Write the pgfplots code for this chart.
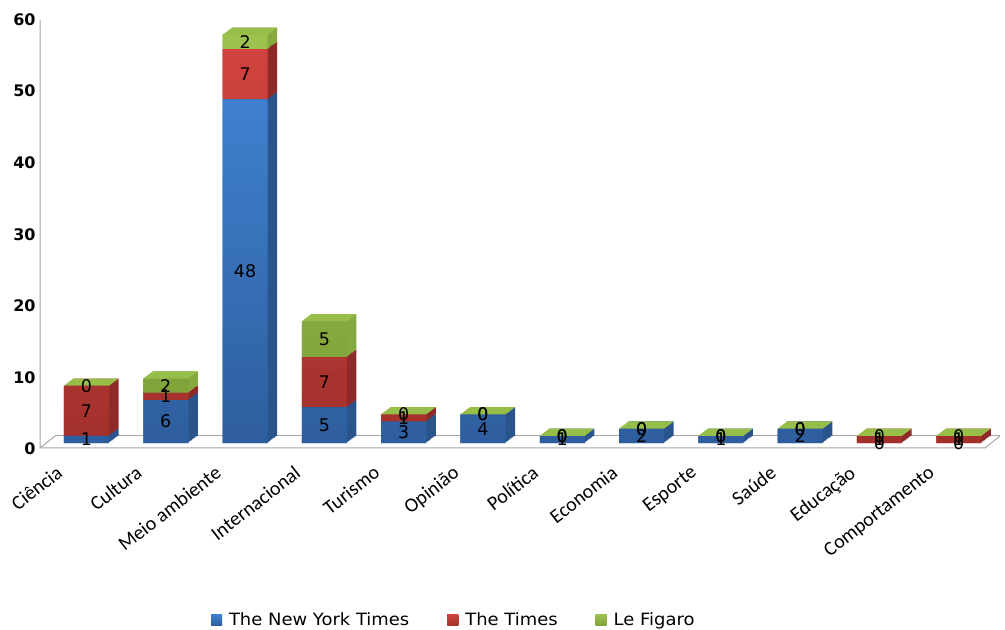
\documentclass[border=0pt]{standalone}
\usepackage{pgfplots}
\pgfplotsset{compat=1.18}
\usepackage{pgfplotstable}
\usepackage{fontspec}
\setmainfont{DejaVu Sans}
\newfontfamily\carlito{Carlito}
\newfontfamily\legfont[FakeStretch=1.06]{DejaVu Sans}

\definecolor{blueT}{HTML}{3F80CE}
\definecolor{blueB}{HTML}{2E5E9E}
\definecolor{blueS}{HTML}{2A558C}
\definecolor{redT}{HTML}{D0433F}
\definecolor{redB}{HTML}{A3302C}
\definecolor{redS}{HTML}{8E2A27}
\definecolor{greenT}{HTML}{9DC24E}
\definecolor{greenB}{HTML}{7FA33A}
\definecolor{greenS}{HTML}{86AA3E}
\definecolor{greenTop}{HTML}{98BE4A}
\definecolor{floor}{HTML}{A6A6A6}

\pgfdeclareplotmark{topface}{%
  \pgfpathmoveto{\pgfpoint{-22.5bp}{0bp}}%
  \pgfpathlineto{\pgfpoint{22.5bp}{0bp}}%
  \pgfpathlineto{\pgfpoint{32.1bp}{7.2bp}}%
  \pgfpathlineto{\pgfpoint{-12.9bp}{7.2bp}}%
  \pgfpathclose
  \pgfusepathqfill
}

\pgfplotstableread{
x nyt times figaro
0 1 7 0
1 6 1 2
2 48 7 2
3 5 7 5
4 3 1 0
5 4 0 0
6 1 0 0
7 2 0 0
8 1 0 0
9 2 0 0
10 0 1 0
11 0 1 0
}\datatable

\pgfplotsset{
  geom/.style={
    scale only axis, width=960bp, height=429.6bp, anchor=south west,
    xmin=-0.586, xmax=11.52, ymin=0, ymax=60,
    axis line style={draw=none}, tick style={draw=none},
    clip=false,
  },
  base/.style={geom, ybar stacked, bar width=45bp},
}

\begin{document}
\begin{tikzpicture}
\path[use as bounding box] (0bp,0bp) rectangle (1005bp,630bp);
% floor and wall edge
\draw[floor, line width=1bp] (55bp,194bp) -- (1000bp,194bp);
\draw[floor, line width=1bp] (40bp,610bp) -- (40bp,182bp) -- (985bp,182bp) -- (1000bp,194bp);
\draw[floor, line width=1bp] (40bp,182bp) -- (55bp,194bp);
% depth (3D) passes: side faces
\foreach \k in {1,...,8}{
\begin{axis}[base, hide axis, at={({40bp+\k*1.2bp},{187bp+\k*0.9bp})}]
\addplot[fill=blueS, draw=none] table[x=x,y=nyt]{\datatable};
\end{axis}
}
\foreach \k in {1,...,8}{
\begin{axis}[base, hide axis, at={({40bp+\k*1.2bp},{187bp+\k*0.9bp})}]
\addplot[fill=none, draw=none] table[x=x,y=nyt]{\datatable};
\addplot[fill=redS, draw=none] table[x=x,y=times]{\datatable};
\end{axis}
}
\foreach \k in {1,...,8}{
\begin{axis}[base, hide axis, at={({40bp+\k*1.2bp},{187bp+\k*0.9bp})}]
\addplot[fill=none, draw=none] table[x=x,y=nyt]{\datatable};
\addplot[fill=none, draw=none] table[x=x,y=times]{\datatable};
\addplot[fill=greenS, draw=none] table[x=x,y=figaro]{\datatable};
\end{axis}
}
% front faces
\begin{axis}[base, at={(40bp,187bp)},
  ytick={0,10,...,60},
  yticklabel style={font=\bfseries\fontsize{16}{19}\selectfont, yshift=-6bp, xshift=-1bp},
  /pgf/number format/assume math mode=true,
  xtick={0,...,11},
  xticklabels={Ciência,Cultura,Meio ambiente,Internacional,Turismo,Opinião,Política,Economia,Esporte,Saúde,Educação,Comportamento},
  xticklabel style={font=\carlito\fontsize{20}{23}\selectfont, xshift=-31bp, yshift=-20bp, rotate=38, anchor=north east, inner sep=1bp},
  legend columns=3,
  legend style={draw=none, at={(0.431,-0.412)}, anchor=center, font=\legfont\fontsize{17}{20}\selectfont,
    /tikz/every odd column/.append style={column sep=5bp},
    /tikz/every even column/.append style={column sep=36bp}},
  legend image code/.code={\fill[#1] (0bp,-5.5bp) rectangle (11bp,5.5bp);},
]
\addplot[fill=blueB, top color=blueT, bottom color=blueB, draw=none] table[x=x,y=nyt]{\datatable};
\addplot[fill=redB, top color=redT, bottom color=redB, draw=none] table[x=x,y=times]{\datatable};
\addplot[fill=greenB, top color=greenT, bottom color=greenB, draw=none] table[x=x,y=figaro]{\datatable};
\legend{The New York Times, The Times, Le Figaro}
\end{axis}
% top faces and value labels
\begin{axis}[geom, hide axis, at={(40bp,187bp)},
  /pgf/number format/assume math mode=true,
  every node near coord/.append style={font=\fontsize{17.5}{20}\selectfont, text=black, anchor=center, inner sep=0pt},
]
\addplot[only marks, mark=topface, mark options={fill=greenTop, draw=none}]
  table[x=x, y expr=\thisrow{nyt}+\thisrow{times}+\thisrow{figaro}]{\datatable};
\addplot[draw=none, mark=none, nodes near coords, point meta=explicit]
  table[x=x, y expr=\thisrow{nyt}/2, meta=nyt]{\datatable};
\addplot[draw=none, mark=none, nodes near coords, point meta=explicit]
  table[x=x, y expr=\thisrow{nyt}+\thisrow{times}/2, meta=times]{\datatable};
\addplot[draw=none, mark=none, nodes near coords, point meta=explicit]
  table[x=x, y expr=\thisrow{nyt}+\thisrow{times}+\thisrow{figaro}/2, meta=figaro]{\datatable};
\end{axis}
\end{tikzpicture}
\end{document}
